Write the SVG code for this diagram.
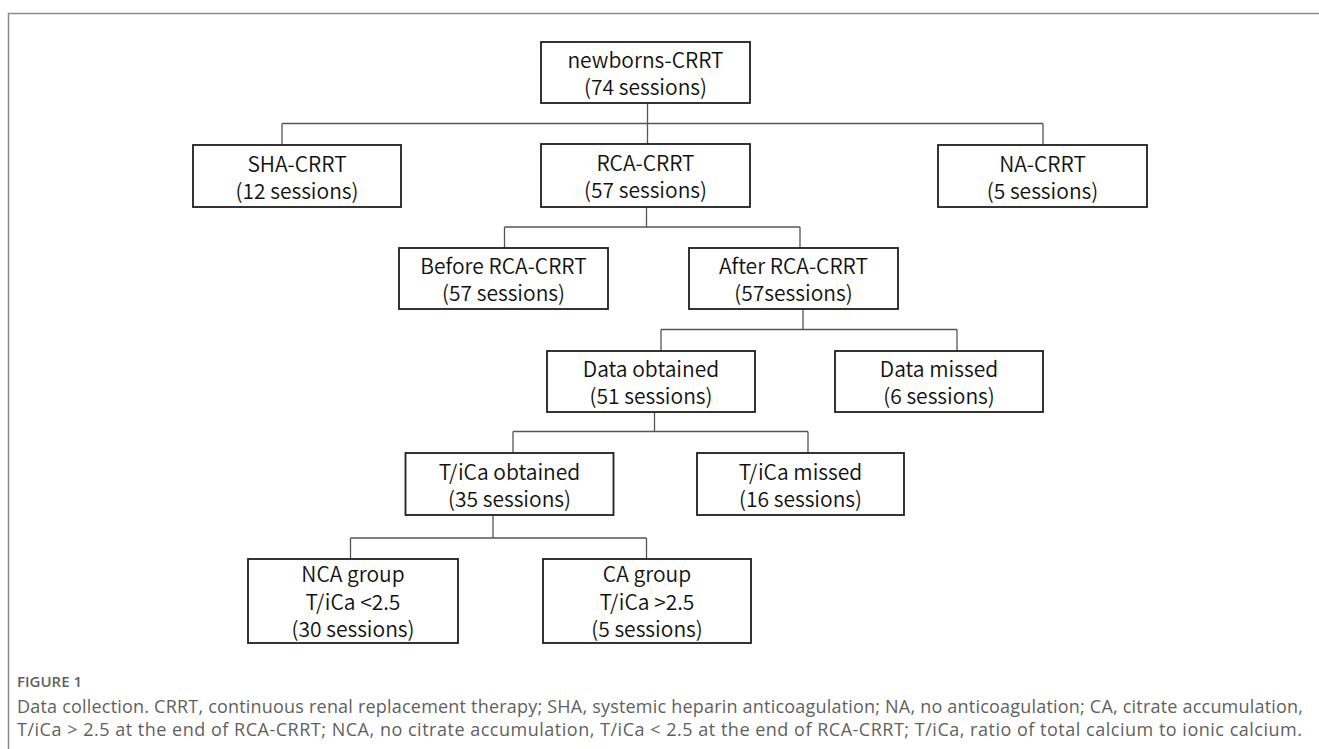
<svg xmlns="http://www.w3.org/2000/svg" width="1319" height="749" viewBox="0 0 1319 749">
<style>
.box rect{fill:#fff;stroke:#1e1e1e;stroke-width:1.8}
.box text{font-family:"Noto Sans CJK SC","Noto Sans",sans-serif;font-size:21px;font-weight:350;fill:#111;text-anchor:middle}
.conn line{stroke:#555;stroke-width:1.3}
.frame{stroke:#8a8a8a;stroke-width:1.5;fill:none}
.cap{font-family:"Open Sans","Noto Sans",sans-serif;fill:#5f5f5f}
</style>
<rect width="1319" height="749" fill="#fff"/>
<path class="frame" d="M8.5,749 V13.5 H1319"/>
<g id="connectors" class="conn">
<line x1="647.5" y1="103" x2="647.5" y2="144"/>
<line x1="282" y1="123.5" x2="1043" y2="123.5"/>
<line x1="282" y1="123.5" x2="282" y2="145"/>
<line x1="1043" y1="123.5" x2="1043" y2="145"/>
<line x1="646.5" y1="207" x2="646.5" y2="227"/>
<line x1="504.5" y1="227" x2="800" y2="227"/>
<line x1="504.5" y1="227" x2="504.5" y2="248"/>
<line x1="800" y1="227" x2="800" y2="248"/>
<line x1="803" y1="309" x2="803" y2="329.5"/>
<line x1="661" y1="329.5" x2="957" y2="329.5"/>
<line x1="661" y1="329.5" x2="661" y2="351"/>
<line x1="957" y1="329.5" x2="957" y2="351"/>
<line x1="654.5" y1="412" x2="654.5" y2="431.5"/>
<line x1="513" y1="431.5" x2="808" y2="431.5"/>
<line x1="513" y1="431.5" x2="513" y2="453"/>
<line x1="808" y1="431.5" x2="808" y2="453"/>
<line x1="493" y1="515" x2="493" y2="538"/>
<line x1="350.5" y1="538" x2="646.5" y2="538"/>
<line x1="350.5" y1="538" x2="350.5" y2="559"/>
<line x1="646.5" y1="538" x2="646.5" y2="559"/>
</g>
<g id="newborns" class="box"><rect x="541" y="42" width="209" height="61"/><text x="645.5" y="68">newborns-CRRT</text><text x="645.5" y="95">(74 sessions)</text></g>
<g id="sha" class="box"><rect x="193" y="145" width="208" height="62"/><text x="297" y="172">SHA-CRRT</text><text x="297" y="199">(12 sessions)</text></g>
<g id="rca" class="box"><rect x="541" y="144" width="209" height="63"/><text x="645.5" y="171">RCA-CRRT</text><text x="645.5" y="198">(57 sessions)</text></g>
<g id="na" class="box"><rect x="938" y="145" width="209" height="62"/><text x="1042.5" y="172">NA-CRRT</text><text x="1042.5" y="199">(5 sessions)</text></g>
<g id="before" class="box"><rect x="399" y="248" width="209" height="61"/><text x="503.5" y="274">Before RCA-CRRT</text><text x="503.5" y="301">(57 sessions)</text></g>
<g id="after" class="box"><rect x="689" y="248" width="209" height="61"/><text x="793.5" y="274">After RCA-CRRT</text><text x="793.5" y="301">(57sessions)</text></g>
<g id="data-obtained" class="box"><rect x="547" y="351" width="208" height="61"/><text x="651" y="377">Data obtained</text><text x="651" y="404">(51 sessions)</text></g>
<g id="data-missed" class="box"><rect x="835" y="351" width="208" height="61"/><text x="939" y="377">Data missed</text><text x="939" y="404">(6 sessions)</text></g>
<g id="tica-obtained" class="box"><rect x="405.5" y="453" width="208" height="62"/><text x="509.5" y="480">T/iCa obtained</text><text x="509.5" y="507">(35 sessions)</text></g>
<g id="tica-missed" class="box"><rect x="697" y="453" width="207" height="62"/><text x="800.5" y="480">T/iCa missed</text><text x="800.5" y="507">(16 sessions)</text></g>
<g id="nca" class="box"><rect x="248" y="559" width="210" height="84"/><text x="353" y="582">NCA group</text><text x="353" y="610">T/iCa &lt;2.5</text><text x="353" y="637">(30 sessions)</text></g>
<g id="ca" class="box"><rect x="543" y="559" width="208" height="84"/><text x="647" y="582">CA group</text><text x="647" y="610">T/iCa &gt;2.5</text><text x="647" y="637">(5 sessions)</text></g>
<g id="caption">
<text class="cap" x="17" y="687" font-size="15" font-weight="600">FIGURE 1</text>
<text class="cap" x="17" y="713" font-size="18" textLength="1286" lengthAdjust="spacing">Data collection. CRRT, continuous renal replacement therapy; SHA, systemic heparin anticoagulation; NA, no anticoagulation; CA, citrate accumulation,</text>
<text class="cap" x="17" y="736" font-size="18" textLength="1285" lengthAdjust="spacing">T/iCa &gt; 2.5 at the end of RCA-CRRT; NCA, no citrate accumulation, T/iCa &lt; 2.5 at the end of RCA-CRRT; T/iCa, ratio of total calcium to ionic calcium.</text>
</g>
</svg>
